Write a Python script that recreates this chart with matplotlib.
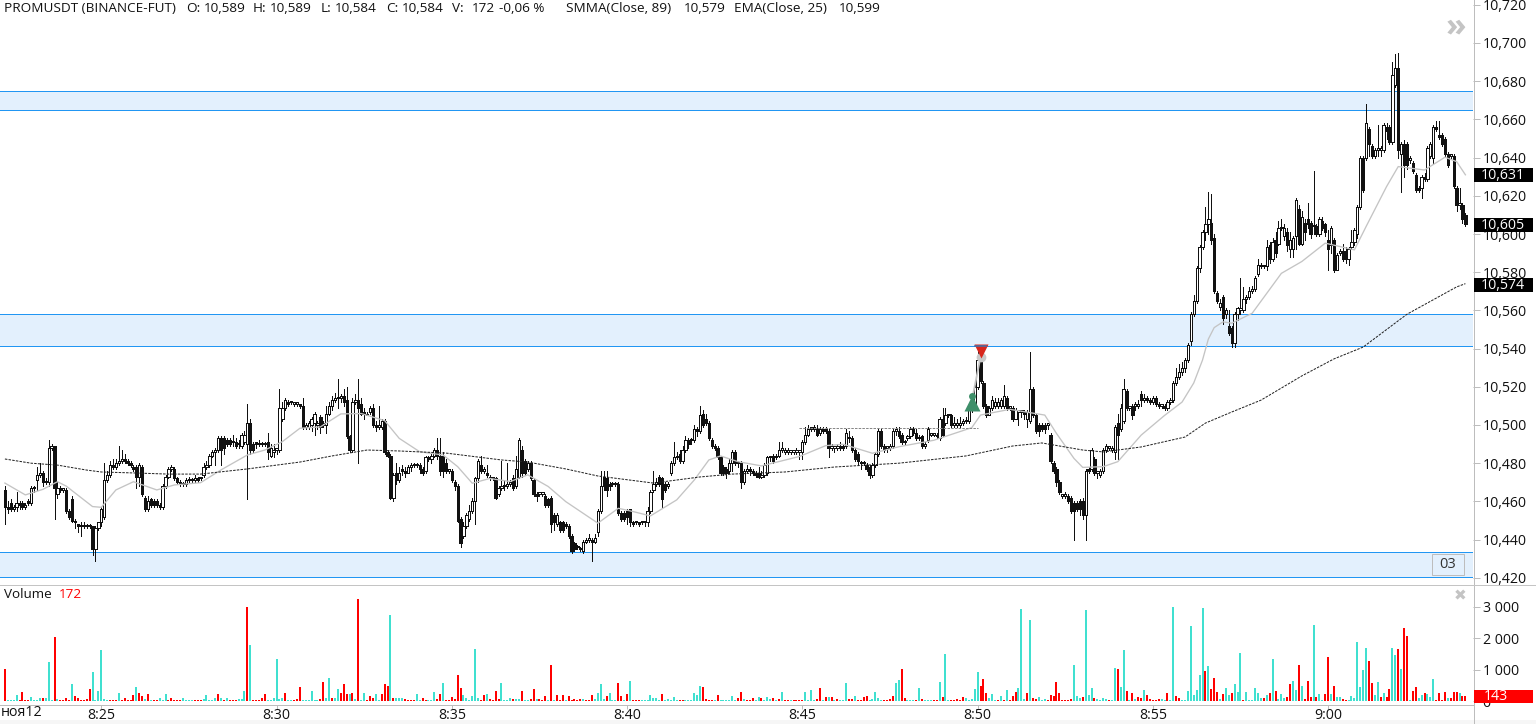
import numpy as np
import matplotlib
matplotlib.use("Agg")
import matplotlib.pyplot as plt
from matplotlib.patches import Rectangle
from matplotlib.ticker import FuncFormatter, FixedLocator

plt.rcParams["font.family"] = ["Open Sans", "DejaVu Sans"]

# Prices are thousandths above 10 (489 means 10,489), 5 second bars
opens = [
466,457,459,456,457,459,459,457,460,459,
467,471,474,475,470,470,488,489,464,467,
466,466,455,461,450,448,447,447,447,447,
447,435,446,449,452,471,474,479,478,480,
481,482,481,480,478,478,473,478,462,456,
461,460,460,458,457,468,473,477,477,472,
470,469,469,471,471,471,472,472,474,478,
479,484,486,487,493,493,492,492,491,491,
490,489,491,490,501,490,491,490,490,490,
491,484,486,487,487,503,509,512,512,511,
511,511,510,499,499,500,501,500,504,500,
500,506,510,513,514,514,515,513,494,487,
512,513,511,507,505,507,509,500,499,499,
502,486,484,462,475,471,477,476,475,478,
479,479,479,477,476,483,482,484,487,484,
484,480,476,476,470,468,451,442,447,451,
455,460,472,479,476,475,473,472,472,464,
467,468,468,469,472,468,473,487,481,477,
480,471,464,464,464,463,461,462,453,448,
449,449,448,447,442,438,436,435,434,439,
440,440,439,444,455,473,472,469,469,469,
469,454,454,455,456,449,449,449,449,449,
449,455,466,469,473,472,469,468,475,480,
483,485,481,487,492,492,492,498,497,506,
503,501,492,489,488,483,478,477,476,480,
486,480,480,470,476,477,476,475,475,473,
474,475,483,484,483,484,487,486,486,486,
486,486,486,486,491,495,498,498,498,496,
498,498,497,488,488,488,489,489,489,493,
493,487,485,480,480,479,478,474,479,485,
497,489,488,488,489,497,497,495,491,493,
494,498,496,493,494,489,492,495,495,494,
493,503,501,505,505,500,500,500,501,502,
502,508,511,520,533,522,510,505,509,510,
510,510,510,514,509,509,503,507,507,507,
503,502,519,505,500,500,500,500,495,480,
477,470,463,463,463,462,459,459,460,460,
453,477,477,482,475,474,476,487,488,487,
486,501,498,502,518,509,510,510,510,516,
513,514,513,512,514,511,510,510,509,512,
513,522,525,528,530,534,544,558,565,582,
593,601,605,606,598,569,562,567,558,552,
551,543,558,560,560,566,567,570,571,579,
584,583,583,594,587,597,595,603,599,601,
592,592,599,613,595,606,608,606,604,604,
600,607,605,597,594,597,581,590,591,591,
587,593,596,600,614,640,640,655,646,641,
644,644,644,656,656,648,678,687,642,647,
647,639,637,631,624,624,630,629,641,640,
656,652,652,650,642,641,641,624,615,615,
610]

closes = [
457,456,456,457,459,458,457,458,459,467,
467,474,475,470,470,488,489,467,467,466,
466,455,452,450,449,447,447,447,447,447,
435,446,449,456,471,474,479,478,480,481,
482,481,480,479,477,473,479,464,456,460,
458,458,458,457,468,473,477,477,472,470,
469,469,471,471,471,472,471,472,478,479,
484,486,487,493,487,488,490,490,491,489,
490,495,495,501,487,487,490,490,490,490,
486,488,486,487,509,509,513,511,512,511,
511,510,499,499,501,503,506,500,499,500,
506,510,513,514,514,515,512,494,487,512,
513,509,506,506,506,509,500,499,499,502,
486,484,462,474,471,475,476,475,478,479,
479,479,477,475,483,482,484,487,484,476,
476,476,476,471,468,450,438,447,453,455,
460,472,481,476,477,474,472,472,462,467,
468,468,469,470,467,477,492,475,475,480,
472,464,463,464,464,458,458,448,449,453,
445,445,447,442,434,435,436,435,439,440,
440,439,441,455,468,468,466,468,469,469,
454,451,451,452,449,448,449,448,449,449,
455,465,469,470,469,461,466,469,480,483,
484,481,487,492,490,492,498,497,505,500,
501,493,489,488,483,475,475,475,480,486,
480,480,470,476,477,476,475,474,473,474,
479,483,483,481,484,487,487,486,486,486,
486,486,486,491,495,498,498,498,495,498,
497,497,488,488,488,489,488,488,496,493,
487,482,481,480,480,477,474,479,485,497,
489,487,488,488,497,497,494,491,491,494,
498,496,493,493,489,490,498,495,495,495,
503,495,505,505,500,500,500,501,502,502,
508,511,520,534,523,510,505,509,513,512,
512,513,515,509,509,503,508,507,507,506,
507,519,505,497,497,498,498,500,481,476,
470,465,463,463,460,455,455,456,456,453,
476,476,487,475,475,476,487,489,488,488,
499,495,509,519,509,509,505,510,511,513,
514,513,512,514,511,510,510,509,512,513,
522,525,528,530,534,542,558,565,582,593,
601,605,608,597,570,565,564,556,560,548,
543,558,561,561,566,566,570,571,577,584,
583,583,593,587,596,590,603,603,603,594,
597,598,618,595,609,601,605,600,604,600,
608,603,601,592,603,581,589,591,587,587,
592,596,602,614,640,623,658,647,641,644,
644,644,657,654,648,683,687,644,647,636,
636,639,633,623,623,630,629,645,647,656,
655,651,647,642,636,641,625,615,616,608,
605]

highs = [
468,460,461,458,465,460,460,459,461,468,
468,478,480,476,472,492,490,489,470,468,
467,467,456,463,451,448,449,449,448,448,
447,447,449,457,480,476,481,482,482,489,
487,485,482,481,479,479,480,479,463,463,
462,461,461,459,469,474,478,479,478,473,
471,470,472,473,472,474,473,473,480,481,
485,487,488,494,494,494,493,493,495,493,
492,496,497,511,503,491,491,492,491,491,
496,490,490,488,519,512,514,513,512,512,
512,511,514,501,502,504,507,502,505,502,
510,512,515,517,524,516,519,520,495,514,
516,524,514,509,507,510,511,502,510,503,
503,487,485,475,480,478,479,478,479,480,
480,480,480,478,484,484,485,488,493,493,
486,482,477,477,471,469,452,449,454,458,
462,473,482,484,478,479,474,473,473,468,
481,471,480,471,474,484,493,489,482,481,
481,472,465,465,465,464,462,463,454,454,
450,450,449,448,443,439,437,436,440,441,
443,441,443,456,476,476,476,470,470,470,
470,455,455,456,456,450,450,449,450,450,
457,466,476,472,474,473,470,470,481,491,
486,487,489,494,493,493,500,499,510,508,
506,502,493,490,489,484,479,478,482,487,
487,481,481,477,479,478,477,476,478,476,
480,484,484,485,485,491,491,488,488,487,
487,488,487,492,499,500,499,500,500,499,
499,499,498,490,489,490,491,490,498,497,
494,488,486,481,481,480,479,480,486,498,
498,490,489,490,498,499,499,496,492,495,
499,499,498,495,495,491,499,496,496,496,
504,509,509,506,506,504,503,504,503,504,
509,512,521,540,534,523,511,510,515,514,
514,514,521,515,510,510,509,508,508,508,
508,538,520,506,501,501,501,501,496,481,
478,471,464,465,464,463,460,460,461,462,
477,478,488,483,476,477,488,490,489,489,
500,506,511,524,519,510,511,512,513,518,
516,515,514,515,515,512,511,511,513,514,
523,530,532,533,535,543,559,568,583,594,
602,614,622,621,600,570,566,568,561,560,
552,559,562,577,572,568,572,573,578,587,
585,584,597,596,598,601,607,608,605,603,
601,599,619,615,612,608,616,607,633,605,
609,609,606,602,604,598,590,592,595,593,
593,602,603,615,641,641,668,656,647,645,
657,646,658,658,657,690,694,695,648,649,
648,641,638,632,625,631,632,646,648,657,
659,659,653,651,643,642,642,625,624,616,
611]

lows = [
448,454,455,455,455,456,456,456,458,458,
465,466,473,468,469,468,487,451,462,465,
465,454,451,449,446,444,442,446,446,446,
432,429,445,447,451,470,473,477,477,479,
480,480,479,478,476,467,468,463,455,455,
457,457,457,456,456,467,472,476,471,469,
468,468,468,470,470,470,470,471,473,477,
478,483,479,486,479,485,489,489,489,488,
488,488,490,461,485,486,488,489,489,489,
482,483,483,485,486,502,508,510,511,510,
510,509,498,498,498,497,495,498,496,499,
496,505,508,512,509,512,510,493,486,486,
511,480,505,503,505,506,499,497,498,498,
485,483,461,460,469,470,474,473,475,476,
478,478,475,474,475,481,480,483,482,474,
473,475,475,470,466,449,436,441,446,450,
454,448,470,475,475,473,471,471,461,463,
466,466,467,468,466,467,472,473,474,476,
471,463,460,463,463,457,457,444,445,447,
444,444,446,441,433,434,435,434,433,438,
439,429,438,442,454,466,463,466,468,468,
453,450,450,448,447,447,448,447,448,447,
447,454,465,468,468,457,465,467,474,479,
482,480,480,486,488,490,491,494,496,499,
500,492,488,487,482,474,474,472,475,476,
479,478,467,469,475,474,474,473,472,472,
473,474,481,480,482,483,486,485,485,485,
485,485,482,482,490,494,497,497,494,495,
496,496,483,487,486,487,487,487,488,491,
486,481,479,477,479,476,472,473,478,484,
488,486,486,487,488,495,493,490,490,492,
493,495,492,492,488,488,491,494,494,493,
492,494,500,504,499,499,499,499,500,501,
501,507,510,519,522,509,504,505,508,509,
509,509,509,508,508,502,503,500,504,503,
499,501,504,496,494,497,496,498,480,475,
468,464,462,462,459,454,440,455,453,451,
440,475,476,474,472,473,475,486,487,486,
482,482,497,501,508,508,503,508,509,510,
512,512,511,511,510,509,509,508,508,511,
512,521,524,526,528,533,542,557,564,580,
592,597,600,595,569,564,560,553,556,547,
541,541,555,558,559,564,566,569,570,578,
582,582,581,585,586,588,594,602,597,591,
588,588,592,594,594,597,603,598,600,599,
599,602,599,581,590,580,581,589,586,585,
584,592,594,598,613,622,639,641,640,640,
641,641,643,650,647,647,677,640,622,630,
634,637,632,622,622,619,628,628,640,637,
654,650,646,641,635,640,624,612,613,606,
604]

volumes = [
1020,20,20,20,180,30,280,30,30,140,
30,30,80,90,90,1230,20,2030,50,20,
20,110,20,540,150,90,30,30,50,370,
930,20,320,1630,50,40,30,30,20,250,
30,80,30,30,190,450,250,150,50,220,
20,20,20,110,30,220,30,90,30,30,
30,80,30,30,30,30,30,30,50,180,
30,30,110,220,110,30,110,30,30,30,
50,50,320,3000,1780,30,30,30,90,220,
30,30,110,1340,50,90,250,30,30,20,
50,440,20,20,30,310,20,20,50,600,
90,730,90,110,380,250,530,220,220,250,
50,3250,20,250,30,150,90,220,30,220,
540,480,2730,90,80,80,80,50,30,30,
20,220,30,90,30,30,30,280,50,220,
570,30,30,120,50,830,410,190,90,30,
160,1660,90,20,190,220,50,30,310,50,
570,30,30,90,60,60,60,310,30,30,
60,380,60,60,30,160,30,1150,30,190,
40,190,30,160,30,60,30,60,60,30,
30,190,60,250,540,60,160,250,30,30,
570,160,30,220,640,30,30,30,30,30,
30,190,90,90,30,220,30,60,30,120,
30,30,30,30,30,30,250,190,480,450,
60,30,30,30,190,30,30,30,30,160,
30,80,290,60,30,30,80,30,120,90,
30,120,60,90,30,60,290,30,30,30,
30,30,30,30,290,30,350,30,60,410,
30,130,130,130,30,60,30,30,570,60,
70,160,30,30,130,160,30,60,290,90,
30,30,30,60,160,570,670,1020,90,30,
30,30,30,410,60,30,30,30,30,30,
600,130,1500,30,30,30,60,30,130,90,
30,60,380,920,480,700,250,90,220,30,
30,160,30,350,30,160,290,410,2940,50,
250,2590,90,60,120,30,60,30,190,160,
600,250,30,30,30,60,1150,160,90,120,
2900,190,410,90,60,30,90,60,30,30,
1050,1020,450,1630,320,30,250,60,130,90,
350,190,60,30,30,60,60,30,250,30,
3000,160,90,30,30,320,2400,190,350,830,
2970,960,1120,380,730,290,60,220,410,190,
250,540,290,1530,30,290,30,30,410,250,
90,90,190,250,1330,320,60,220,90,130,
540,640,350,1150,480,60,640,130,2430,130,
220,30,220,1400,220,480,130,130,60,30,
20,160,90,1880,450,990,1690,1280,570,190,
610,130,250,130,380,1690,1470,1660,1020,2330,
2070,20,320,450,90,190,250,220,130,700,
20,250,20,290,90,90,290,290,250,160,
160]

# 1 = turquoise bar, 0 = red bar
vol_up = [
0,1,1,1,1,0,0,0,0,1,
1,1,1,0,1,1,1,0,1,0,
0,0,0,1,0,0,0,0,0,0,
1,1,1,1,1,1,0,0,0,1,
0,0,0,0,0,1,0,0,1,0,
1,0,0,1,1,1,0,0,0,0,
0,1,1,1,1,0,0,0,1,1,
1,1,1,0,1,0,1,0,0,0,
1,1,1,0,1,0,0,0,0,0,
1,1,1,1,1,1,0,1,1,0,
0,0,1,1,1,1,1,1,0,0,
1,1,0,1,1,0,0,0,1,0,
1,0,1,1,0,0,0,1,1,0,
0,0,1,0,1,1,1,0,0,0,
0,1,1,0,0,1,1,1,0,0,
1,0,0,0,0,0,0,1,1,1,
1,1,1,0,0,1,0,0,0,0,
1,1,1,1,0,1,1,0,1,1,
0,0,1,0,0,0,1,0,1,0,
0,0,1,0,0,0,0,0,1,0,
0,0,1,1,1,1,0,1,1,1,
0,0,1,0,1,0,0,0,1,1,
1,1,1,1,1,0,1,1,1,1,
1,0,0,1,1,1,1,1,1,0,
0,0,0,1,0,1,1,1,1,1,
1,0,0,1,0,0,0,1,1,0,
1,1,1,0,1,0,1,0,0,1,
0,0,0,0,1,1,1,1,0,0,
1,0,1,0,1,0,1,1,1,0,
0,1,0,0,0,0,1,1,1,1,
1,0,0,0,0,1,1,0,0,1,
1,1,0,1,0,1,1,1,0,0,
1,0,1,1,0,0,0,0,0,1,
1,1,1,1,0,0,0,1,1,1,
0,1,0,1,0,0,0,1,1,1,
0,1,0,0,1,1,1,0,0,0,
0,0,0,0,0,0,1,1,1,0,
1,1,1,0,1,1,1,1,0,1,
1,0,1,1,0,1,0,1,0,0,
1,0,0,0,0,0,1,1,0,1,
1,0,0,1,1,1,1,1,1,1,
1,0,1,0,0,0,1,0,1,1,
0,1,1,1,0,1,1,1,1,1,
1,0,1,0,1,0,1,1,1,0,
0,1,1,0,1,0,0,0,1,0,
1,1,0,0,1,0,1,1,0,0,
1,1,1,1,1,1,1,0,0,1,
1,0,1,0,0,1,1,0,1,0,
0,1,0,0,1,1,0,1,1,1,
0,0,0,0,1,0,0,0,1,0,
0]

# Indicator lines, bar index and price
smma_bar = [0,9,18,28,33,44,56,67,83,101,112,124,135,151,170,179,192,203,222,238,249,267,284,306,329,345,355,369,376,389,404,411,420,430,444,455,465,480,497,500]
smma_val = [482.2,480,479,476.4,475.4,474.9,474.3,474.3,477,480.6,483.8,486.9,486.4,485.3,481.7,480.6,477,473.3,469.6,472.8,474.3,475.4,478,480,483.8,489,490.6,486.9,485.9,488.5,493.7,501,506.8,513,525.7,534.6,540.8,558,572.3,574]
ema_bar = [0,7,13,18,21,30,33,38,44,52,58,67,74,83,89,95,101,108,115,122,130,135,142,150,155,160,166,173,179,186,192,203,210,215,221,230,236,241,245,251,259,272,281,287,297,306,318,331,334,344,356,360,366,369,376,381,389,397,403,407,410,412,414,417,420,427,437,444,452,462,466,473,477,486,493,497,500]
ema_val = [469.6,463.4,466.3,470.3,468,457.3,456.9,466,470.3,466,468.6,469.8,476.5,484.3,486.9,491.3,498.3,499,505.8,506,502.3,493,486,484.3,478.2,469.5,472,470.4,473.9,467.8,459.9,448.6,456.4,454.7,452.4,460.8,471.2,481.7,483.8,480.8,478.6,483.5,489.2,489.9,485.2,488.6,492,498.6,505.2,508.2,505.2,495.6,482.5,477.8,478.2,480.8,494.7,505,512,522,534,545,551,554,553.3,558.5,579.4,585.6,595.2,591.7,603.9,624.8,635.3,633.5,640.2,637.9,631]

# Zones drawn across the price panel (low, high)
zones = [(10.6649, 10.6749), (10.5414, 10.558), (10.4204, 10.4335)]
price_ticks = [10.42 + 0.02 * n for n in range(16)]
vol_ticks = [0, 1000, 2000, 3000]
time_bars = [33, 93, 153, 213, 273, 333, 393, 453]
time_labels = ["8:25", "8:30", "8:35", "8:40", "8:45", "8:50", "8:55", "9:00"]

W, H = 1536, 724
PX = 2.921
AXIS_X = 1473
ONE_PX = 0.72


def price(v):
    return 10 + np.asarray(v, dtype=float) / 1000


def figx(x):
    return x / W


def figy(y):
    return 1 - y / H


fig = plt.figure(figsize=(W / 100, H / 100), dpi=100, facecolor="white")

# bottom grey strip
fig.add_artist(Rectangle((0, 0), 1, 4 / H, transform=fig.transFigure, color="#f6f6f6", lw=0))

ax = fig.add_axes([0, figy(584), AXIS_X / W, 584 / H])
vx = fig.add_axes([0, figy(705), AXIS_X / W, 120 / H])
xlim = (-4.9 / PX, (AXIS_X - 4.9) / PX)
ax.set_xlim(*xlim)
vx.set_xlim(*xlim)
ax.set_ylim(10.700 - 541 / 1910, 10.700 + 43 / 1910)
vx.set_ylim(-127, (701 - 585) / 31.4 * 1000)

for a in (ax, vx):
    a.patch.set_alpha(0)
    for s in a.spines.values():
        s.set_visible(False)

bars = np.arange(len(closes))
o, c, h, l = price(opens), price(closes), price(highs), price(lows)

# zones
for low, high in zones:
    ax.axhspan(low, high, color="#e3f0fd", lw=0, zorder=1)
    ax.axhline(low, color="#2196f3", lw=ONE_PX, zorder=2)
    ax.axhline(high, color="#2196f3", lw=ONE_PX, zorder=2)

# candles
up = c >= o
ax.vlines(bars, l, h, color="#111111", lw=ONE_PX, zorder=3, antialiased=False)
body_w = 2.3 / PX
body_h = np.maximum(np.abs(c - o), 0.0008)
ax.bar(bars[~up], body_h[~up], bottom=np.minimum(o, c)[~up], width=body_w,
       color="#111111", edgecolor="#111111", lw=ONE_PX, zorder=4, antialiased=False)
ax.bar(bars[up], body_h[up], bottom=np.minimum(o, c)[up], width=body_w,
       color="white", edgecolor="#111111", lw=ONE_PX, zorder=4, antialiased=False)

# indicators
ax.plot(ema_bar, price(ema_val), color="#c4c4c4", lw=0.95, zorder=5)
ax.plot(smma_bar, price(smma_val), color="#222222", lw=ONE_PX, ls=(0, (2.5, 1.2)), zorder=5)
ax.plot([272, 333], [10.4985, 10.4985], color="#888888", lw=ONE_PX, ls=(0, (2.5, 1.2)), zorder=5)

# trade markers
ax.plot([331, 334], [10.5125, 10.5355], color="#c4c4c4", lw=1.3, zorder=6)
ax.plot([334], [10.5355], marker="o", ms=7, color="#c9c9c9", mec="none", zorder=6)
ax.plot([334], [10.5387], marker="v", ms=9.5, color="#d8261c", mec="none", zorder=7)
ax.plot([332, 336], [10.5415, 10.5415], color="#4a6fa5", lw=1.2, zorder=7)
ax.plot([331], [10.5115], marker="^", ms=11, color="#3f8f6a", mec="none", zorder=7)
ax.plot([331], [10.5152], marker="o", ms=5, color="#3f8f6a", mec="none", zorder=7)

# volume
vol_colors = ["#40e0d0" if f else "#ff0000" for f in vol_up]
vx.bar(bars, volumes, width=2 / PX, color=vol_colors, lw=0, zorder=3, antialiased=False)

# axes ticks
ax.yaxis.tick_right()
ax.yaxis.set_major_locator(FixedLocator(price_ticks))
ax.yaxis.set_major_formatter(FuncFormatter(lambda v, p: f"{v:.3f}".replace(".", ",")))
ax.tick_params(axis="y", length=5, width=ONE_PX, color="#bdbdbd", labelcolor="#111111",
               labelsize=10.2, pad=2)
ax.set_xticks([])

vx.yaxis.tick_right()
vx.set_yticks(vol_ticks)
vx.set_yticklabels(["0", "1 000", "2 000", "3 000"])
vx.tick_params(axis="y", length=5, width=ONE_PX, color="#bdbdbd", labelcolor="#111111",
               labelsize=10.2, pad=2)
vx.set_xticks(time_bars)
vx.set_xticklabels(time_labels)
vx.tick_params(axis="x", length=3, width=ONE_PX, color="#bdbdbd", labelcolor="#111111",
               labelsize=10.2, pad=-1)
vx.spines["bottom"].set_visible(True)
vx.spines["bottom"].set_color("#bdbdbd")
vx.spines["bottom"].set_linewidth(ONE_PX)

# separators
fig.add_artist(plt.Line2D([figx(AXIS_X + 0.5)] * 2, [figy(724), 1], color="#bdbdbd", lw=ONE_PX))
fig.add_artist(plt.Line2D([0, 1], [figy(584.5)] * 2, color="#c4c4c4", lw=ONE_PX))


def label(x, y, s, color="#111111", size=10.2, **kw):
    kw.setdefault("va", "center")
    fig.text(figx(x), figy(y), s, color=color, fontsize=size, **kw)


# header
for x, s in [(4, "PROMUSDT (BINANCE-FUT)"), (186, "O:"), (204, "10,589"), (253, "H:"),
             (270, "10,589"), (321, "L:"), (335, "10,584"), (386, "C:"), (402, "10,584"),
             (452, "V:"), (472, "172"), (499, "-0,06 %"), (566, "SMMA(Close, 89)"),
             (684, "10,579"), (734, "EMA(Close, 25)"), (839, "10,599")]:
    label(x, 9, s, size=9.7)

label(4, 594, "Volume", size=9.7)
label(59, 594, "172", color="#ff0000", size=9.7)
label(1, 713, "ноя12", size=10.2)

# last value boxes on the price scale
for y, s in [(175, "10,631"), (225, "10,605"), (285, "10,574")]:
    fig.add_artist(Rectangle((figx(1474), figy(y + 7)), 59 / W, 14 / H,
                             transform=fig.transFigure, color="black", lw=0, zorder=10))
    fig.text(figx(1481), figy(y + 0.5), s, color="white", fontsize=10.2, va="center", zorder=11)
fig.add_artist(Rectangle((figx(1474), figy(703)), 59 / W, 13 / H,
                         transform=fig.transFigure, color="#ff0000", lw=0, zorder=10))
fig.text(figx(1484), figy(697), "143", color="white", fontsize=10.2, va="center", zorder=11)

# widgets
fig.add_artist(Rectangle((figx(1431.5), figy(574.5)), 32 / W, 21 / H, transform=fig.transFigure,
                         facecolor="#e3f0fd", edgecolor="#bdbdbd", lw=ONE_PX, zorder=10))
fig.text(figx(1447.5), figy(564), "03", color="#333333", fontsize=10.5, ha="center", va="center", zorder=11)
fig.text(figx(1456), figy(27), "»", color="#c4c4c4", fontsize=24, fontweight="bold", ha="center", va="center")
fig.text(figx(1460), figy(596), "✖", color="#c4c4c4", fontsize=11, ha="center", va="center",
         family=["DejaVu Sans"])

fig.savefig("out.png", dpi=100, facecolor="white")
